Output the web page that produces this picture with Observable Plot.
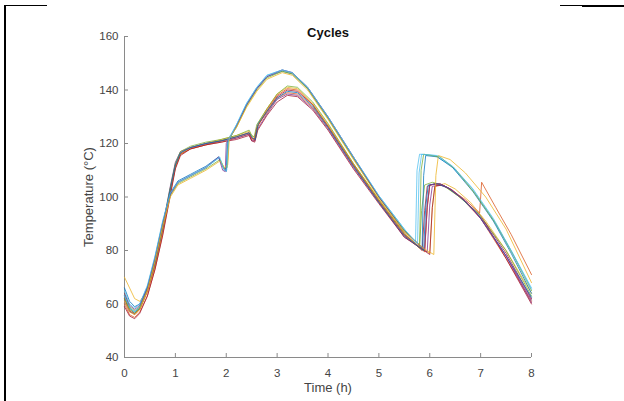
<!DOCTYPE html>
<html>
<head>
<meta charset="utf-8">
<script src="https://cdn.jsdelivr.net/npm/d3@7"></script>
<script src="https://cdn.jsdelivr.net/npm/@observablehq/plot@0.6"></script>
<style>
  html, body { margin: 0; padding: 0; background: #fff; }
  #wrap { position: relative; width: 624px; height: 401px; overflow: hidden; }
  .b { position: absolute; background: #000; }
</style>
</head>
<body>
<div id="wrap">
  <div id="chart"></div>
  <div class="b" style="left:4px;top:5px;width:2px;height:396px;"></div>
  <div class="b" style="left:4px;top:5px;width:43px;height:1px;"></div>
  <div class="b" style="left:560px;top:5px;width:22px;height:1px;"></div>
  <div class="b" style="left:582px;top:5px;width:42px;height:2px;"></div>
</div>
<script>
const title = "Cycles";
const xLabel = "Time (h)";
const yLabel = "Temperature (°C)";
const xTicks = [0, 1, 2, 3, 4, 5, 6, 7, 8];
const yTicks = [40, 60, 80, 100, 120, 140, 160];
const xDomain = [0, 8];
const yDomain = [40, 160];

// MATLAB default colour order
const colors = ["#0072BD", "#D95319", "#EDB120", "#7E2F8E", "#77AC30", "#4DBEEE", "#A2142F"];

// Cycles reaching the lower (~140 °C) peak
const cycleA1 = [[0,62],[0.1,57.5],[0.2,56],[0.3,58],[0.45,65],[0.6,75],[0.75,88],[0.9,103],[1.0,112],[1.1,116.5],[1.3,118.5],[1.6,120],[1.9,121],[2.2,122.5],[2.45,124],[2.5,122],[2.55,121.5],[2.6,126],[2.8,132],[3.0,137.5],[3.2,140],[3.4,139.5],[3.7,134.5],[4.0,126.5],[4.5,112],[5.0,98.5],[5.5,86],[5.85,80],[5.9,95],[5.95,104],[6.1,105],[6.3,104],[6.6,100],[7.0,93],[7.5,79],[8.0,62]];
const cycleA2 = [[0,60],[0.1,56],[0.2,55],[0.3,57],[0.45,63],[0.6,73],[0.75,86],[0.9,101],[1.0,111],[1.1,116],[1.3,118],[1.6,119.5],[1.9,120.5],[2.2,122],[2.45,123.5],[2.5,121.5],[2.56,121],[2.62,127],[2.8,131.5],[3.0,137],[3.2,139],[3.4,138.5],[3.7,133.5],[4.0,126],[4.5,111.5],[5.0,98],[5.5,85.5],[5.9,79.5],[5.95,96],[6.0,104.5],[6.15,105],[6.35,103.5],[6.65,99],[7.0,92],[7.5,77],[8.0,61]];
const cycleA3 = [[0,70],[0.1,66],[0.2,62],[0.3,61],[0.45,65],[0.6,74],[0.75,87],[0.9,102],[1.0,111],[1.1,116],[1.3,118.5],[1.6,120],[1.9,121.5],[2.2,123],[2.45,124.5],[2.52,122.5],[2.58,122],[2.64,128],[2.8,133],[3.0,138.5],[3.2,141],[3.4,140.5],[3.7,135],[4.0,127],[4.5,112.5],[5.0,99],[5.5,86.5],[5.8,81],[6.0,79],[6.05,96],[6.1,104],[6.3,105],[6.5,103],[6.8,98],[7.1,91],[7.5,80],[8.0,64]];
const cycleA4 = [[0,61],[0.1,57],[0.2,56.5],[0.3,58.5],[0.45,66],[0.6,76],[0.75,89],[0.9,104],[1.0,113],[1.1,117],[1.3,118.5],[1.6,120],[1.9,121],[2.2,122],[2.45,123.5],[2.5,121],[2.56,121],[2.6,125],[2.8,131],[3.0,136.5],[3.2,138.5],[3.4,138],[3.7,133],[4.0,125.5],[4.5,111],[5.0,98],[5.5,85],[5.95,79.5],[6.0,97],[6.05,104],[6.2,104.5],[6.4,103],[6.7,98.5],[7.0,92],[7.5,78],[8.0,60.5]];
const cycleA5 = [[0,64],[0.1,59],[0.2,57.5],[0.3,59],[0.45,66],[0.6,76],[0.75,89],[0.9,103.5],[1.0,112.5],[1.1,117],[1.3,119],[1.6,120.5],[1.9,121.5],[2.2,123],[2.45,125],[2.5,123],[2.55,122.5],[2.6,127],[2.8,133],[3.0,138.5],[3.2,141.5],[3.4,141],[3.7,135.5],[4.0,127.5],[4.5,112.5],[5.0,99],[5.5,86.5],[5.8,81],[5.84,95],[5.9,104.5],[6.05,105.5],[6.25,104.5],[6.55,100.5],[6.95,94],[7.5,80],[8.0,63]];
const cycleA6 = [[0,62.5],[0.1,58],[0.2,56.5],[0.3,58],[0.45,64.5],[0.6,74.5],[0.75,87.5],[0.9,102.5],[1.0,111.5],[1.1,116],[1.3,118],[1.6,119.5],[1.9,121],[2.2,122.5],[2.45,124],[2.5,122],[2.56,121.5],[2.62,126.5],[2.8,132.5],[3.0,138],[3.2,140.5],[3.4,140],[3.7,134.5],[4.0,126.5],[4.5,112],[5.0,98.5],[5.5,86],[5.9,80],[5.95,96],[6.0,104.5],[6.2,105],[6.4,103],[6.7,99],[6.98,94],[7.02,105.5],[7.3,96],[7.6,86],[8.0,71]];
const cycleA7 = [[0,59],[0.1,55.5],[0.2,54.5],[0.3,56.5],[0.45,63],[0.6,73],[0.75,85.5],[0.9,100.5],[1.0,110.5],[1.1,115.5],[1.3,118],[1.6,119.5],[1.9,120.5],[2.2,121.5],[2.45,123],[2.5,121],[2.56,120.5],[2.62,125],[2.8,130.5],[3.0,135.5],[3.2,138],[3.4,137.5],[3.7,132.5],[4.0,125],[4.5,110.5],[5.0,97.5],[5.5,85],[6.0,78.5],[6.05,96],[6.1,104],[6.25,104.5],[6.45,102.5],[6.75,97.5],[7.1,90],[7.5,77],[8.0,60]];
const cycleA8 = [[0,63],[0.1,58.5],[0.2,57],[0.3,58.5],[0.45,65.5],[0.6,75.5],[0.75,88.5],[0.9,103],[1.0,112],[1.1,116.5],[1.3,118.5],[1.6,120],[1.9,121],[2.2,122.5],[2.45,124],[2.52,122],[2.57,121.5],[2.63,127.5],[2.8,132],[3.0,137],[3.2,139.5],[3.4,139],[3.7,134],[4.0,126],[4.5,111.5],[5.0,98],[5.5,85.5],[5.88,80],[5.92,96],[5.97,104.5],[6.15,105],[6.35,103.5],[6.6,100],[6.95,93.5],[7.4,81],[8.0,62.5]];

// Cycles reaching the upper (~147 °C) peak
const cycleB1 = [[0,63],[0.1,58.5],[0.2,57],[0.3,59],[0.45,66],[0.6,77],[0.75,90],[0.9,101],[1.05,105.5],[1.3,108],[1.6,111],[1.85,114.5],[1.95,111],[2.0,110],[2.02,121],[2.2,127],[2.4,135],[2.6,141],[2.8,145.5],[3.1,147.5],[3.3,146.5],[3.6,141],[4.0,130],[4.5,115],[5.0,100.5],[5.5,88],[5.72,83],[5.75,110],[5.8,116],[6.1,115.5],[6.4,112],[6.8,104],[7.2,93],[7.6,80],[8.0,66]];
const cycleB2 = [[0,66],[0.1,61],[0.2,59],[0.3,60],[0.45,66.5],[0.6,77.5],[0.75,90.5],[0.9,101.5],[1.05,106],[1.3,108.5],[1.6,111.5],[1.85,115],[1.95,110.5],[2.0,109.5],[2.03,120.5],[2.2,126.5],[2.4,134.5],[2.6,140.5],[2.8,145],[3.1,147],[3.3,146],[3.6,140.5],[4.0,129.5],[4.5,114.5],[5.0,100],[5.5,87.5],[5.85,81],[5.88,108],[5.92,115.5],[6.15,115],[6.45,111],[6.85,102],[7.25,91],[7.6,79],[8.0,64]];
const cycleB3 = [[0,62],[0.1,58],[0.2,56.5],[0.3,58.5],[0.45,65.5],[0.6,76.5],[0.75,89.5],[0.9,100.5],[1.05,105],[1.3,107.5],[1.6,110.5],[1.88,114],[1.97,110.5],[2.02,111],[2.05,121.5],[2.2,126],[2.4,134],[2.6,140],[2.8,144.5],[3.1,147],[3.3,146],[3.6,140.5],[4.0,129.5],[4.5,114.5],[5.0,100],[5.5,87.5],[5.8,82],[5.83,110],[5.88,116],[6.2,115],[6.5,110.5],[6.9,101],[7.3,90],[7.65,78],[8.0,65]];
const cycleB4 = [[0,64],[0.1,59.5],[0.2,58],[0.3,59.5],[0.45,66],[0.6,77],[0.75,90],[0.9,101],[1.05,105.5],[1.3,108],[1.6,111],[1.85,115],[1.93,110],[1.98,109.5],[2.0,120],[2.2,126.5],[2.4,134.5],[2.6,140.5],[2.8,145],[3.1,147.5],[3.3,146.5],[3.6,141],[4.0,130],[4.5,115],[5.0,100],[5.5,87],[5.9,80.5],[5.95,97],[6.0,104.5],[6.2,105],[6.4,103],[6.7,98.5],[7.0,92],[7.5,78],[8.0,61.5]];
const cycleB5 = [[0,61],[0.1,57],[0.2,56],[0.3,58],[0.45,65],[0.6,76],[0.75,89],[0.9,100],[1.05,104.5],[1.3,107],[1.6,110],[1.88,113.5],[1.96,111],[2.03,112],[2.06,122],[2.2,126],[2.4,133.5],[2.6,139.5],[2.8,144],[3.1,146.5],[3.3,145.5],[3.6,140],[4.0,129],[4.5,114],[5.0,99.5],[5.5,87],[5.9,80.5],[6.08,78.5],[6.12,108],[6.17,115.5],[6.4,114],[6.7,109],[7.1,100],[7.5,88],[8.0,68]];
const cycleB6 = [[0,65],[0.1,60],[0.2,58.5],[0.3,60],[0.45,67],[0.6,78],[0.75,91],[0.9,101.5],[1.05,105.5],[1.3,108],[1.6,111],[1.87,115],[1.96,110],[2.01,110],[2.04,121],[2.2,127],[2.4,135],[2.6,141],[2.8,145.5],[3.1,147.5],[3.3,146.5],[3.6,141],[4.0,130],[4.5,115],[5.0,100.5],[5.5,88],[5.76,82.5],[5.79,109],[5.84,116],[6.15,115.5],[6.45,111.5],[6.85,103],[7.25,92],[7.6,80],[8.0,65.5]];

const cycles = [
  {name: "A1", color: colors[6], pts: cycleA1},
  {name: "A2", color: colors[1], pts: cycleA2},
  {name: "A3", color: colors[2], pts: cycleA3},
  {name: "A4", color: colors[3], pts: cycleA4},
  {name: "A5", color: colors[4], pts: cycleA5},
  {name: "A6", color: colors[1], pts: cycleA6},
  {name: "A7", color: colors[6], pts: cycleA7},
  {name: "A8", color: colors[0], pts: cycleA8},
  {name: "B1", color: colors[5], pts: cycleB1},
  {name: "B2", color: colors[0], pts: cycleB2},
  {name: "B3", color: colors[4], pts: cycleB3},
  {name: "B4", color: colors[3], pts: cycleB4},
  {name: "B5", color: colors[2], pts: cycleB5},
  {name: "B6", color: colors[5], pts: cycleB6}
];

const rows = cycles.flatMap(c => c.pts.map(([t, v]) => ({cycle: c.name, color: c.color, t, v})));

const axisColor = "#8a8a8a";
const textColor = "#444";

const chart = Plot.plot({
  width: 624,
  height: 401,
  marginLeft: 124,
  marginRight: 93,
  marginTop: 36,
  marginBottom: 44,
  style: {fontFamily: "'Liberation Sans', Arial, sans-serif", fontSize: "11.5px", color: textColor, background: "white"},
  x: {domain: xDomain},
  y: {domain: yDomain},
  marks: [
    Plot.ruleX([xDomain[0]], {stroke: axisColor, strokeWidth: 1}),
    Plot.ruleY([yDomain[0]], {stroke: axisColor, strokeWidth: 1}),
    Plot.axisX({ticks: xTicks, tickSize: 0, tickPadding: 11, tickFormat: d => String(d), fill: textColor, label: null}),
    Plot.axisY({ticks: yTicks, tickSize: 0, tickPadding: 6, tickFormat: d => String(d), fill: textColor, label: null}),
    Plot.tickX(xTicks, {x: d => d, stroke: axisColor, insetTop: 317, strokeWidth: 1}),
    Plot.tickY(yTicks, {y: d => d, stroke: axisColor, insetRight: 403, strokeWidth: 1}),
    Plot.line(rows, {x: "t", y: "v", z: "cycle", stroke: "color", strokeWidth: 0.85, strokeOpacity: 0.9}),
    Plot.text([title], {frameAnchor: "top", dy: -9, text: d => d, fontWeight: "bold", fontSize: 13, fill: "#111"}),
    Plot.text([xLabel], {frameAnchor: "bottom", dy: 34, text: d => d, fontSize: 13, fill: textColor}),
    Plot.text([yLabel], {frameAnchor: "left", textAnchor: "middle", dx: -36, rotate: -90, text: d => d, fontSize: 13, fill: textColor})
  ]
});
document.getElementById("chart").appendChild(chart);
</script>
</body>
</html>
